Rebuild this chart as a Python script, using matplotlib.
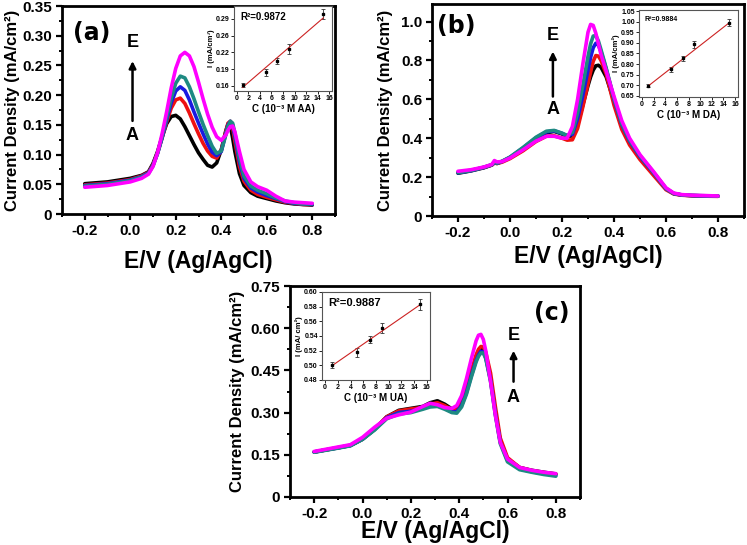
import matplotlib
matplotlib.use("Agg")
import matplotlib.pyplot as plt
from matplotlib.ticker import MultipleLocator
import numpy as np

plt.rcParams['font.family'] = ['Liberation Sans', 'DejaVu Sans']
plt.rcParams['font.weight'] = 'bold'
plt.rcParams['mathtext.default'] = 'bf'

# ---------------- Data: panel (a) AA ----------------
xa = [-0.2, -0.1, 0.0, 0.05, 0.08, 0.10, 0.12, 0.14, 0.16, 0.18, 0.20, 0.22, 0.24, 0.26,
      0.28, 0.30, 0.32, 0.34, 0.36, 0.38, 0.40, 0.42, 0.43, 0.44, 0.45, 0.46, 0.48, 0.50,
      0.53, 0.56, 0.60, 0.64, 0.68, 0.72, 0.76, 0.80]
a_A = [0.051, 0.054, 0.060, 0.065, 0.071, 0.085, 0.105, 0.130, 0.152, 0.164, 0.166, 0.160, 0.147, 0.132,
       0.117, 0.103, 0.092, 0.082, 0.079, 0.086, 0.108, 0.140, 0.152, 0.148, 0.128, 0.105, 0.068, 0.048,
       0.036, 0.030, 0.026, 0.022, 0.019, 0.017, 0.016, 0.015]
a_B = [0.049, 0.052, 0.058, 0.064, 0.070, 0.083, 0.103, 0.128, 0.155, 0.178, 0.192, 0.195, 0.186, 0.170,
       0.152, 0.135, 0.119, 0.106, 0.097, 0.094, 0.107, 0.138, 0.153, 0.156, 0.145, 0.122, 0.080, 0.055,
       0.040, 0.033, 0.028, 0.024, 0.020, 0.018, 0.016, 0.016]
a_C = [0.048, 0.051, 0.057, 0.063, 0.069, 0.082, 0.102, 0.128, 0.158, 0.187, 0.207, 0.214, 0.208, 0.192,
       0.172, 0.153, 0.135, 0.118, 0.104, 0.098, 0.105, 0.135, 0.150, 0.156, 0.150, 0.130, 0.088, 0.060,
       0.044, 0.037, 0.031, 0.026, 0.021, 0.018, 0.017, 0.016]
a_D = [0.047, 0.050, 0.056, 0.062, 0.068, 0.081, 0.102, 0.130, 0.163, 0.195, 0.220, 0.232, 0.229, 0.214,
       0.194, 0.172, 0.151, 0.132, 0.114, 0.102, 0.106, 0.133, 0.148, 0.156, 0.153, 0.136, 0.094, 0.064,
       0.047, 0.040, 0.034, 0.027, 0.022, 0.019, 0.017, 0.017]
a_E = [0.045, 0.048, 0.054, 0.060, 0.067, 0.080, 0.103, 0.135, 0.172, 0.212, 0.245, 0.266, 0.272, 0.266,
       0.248, 0.222, 0.194, 0.168, 0.146, 0.130, 0.124, 0.133, 0.141, 0.147, 0.148, 0.138, 0.105, 0.075,
       0.054, 0.046, 0.040, 0.030, 0.022, 0.020, 0.019, 0.018]

# ---------------- Data: panel (b) DA ----------------
xb = [-0.2, -0.15, -0.1, -0.07, -0.06, -0.05, -0.03, 0.0, 0.05, 0.10, 0.14, 0.17, 0.20, 0.22, 0.24,
      0.26, 0.28, 0.30, 0.31, 0.32, 0.33, 0.34, 0.35, 0.37, 0.40, 0.43, 0.46, 0.50, 0.55, 0.60,
      0.63, 0.66, 0.70, 0.75, 0.80]
b_A = [0.220, 0.232, 0.248, 0.262, 0.275, 0.270, 0.280, 0.300, 0.345, 0.395, 0.428, 0.435, 0.422, 0.410, 0.412,
       0.470, 0.570, 0.670, 0.715, 0.750, 0.772, 0.775, 0.765, 0.715, 0.590, 0.470, 0.385, 0.305, 0.225, 0.140,
       0.115, 0.108, 0.105, 0.103, 0.102]
b_B = [0.225, 0.235, 0.250, 0.262, 0.272, 0.270, 0.277, 0.295, 0.335, 0.383, 0.410, 0.412, 0.400, 0.390, 0.392,
       0.450, 0.560, 0.680, 0.740, 0.795, 0.825, 0.822, 0.800, 0.730, 0.570, 0.445, 0.365, 0.290, 0.212, 0.135,
       0.113, 0.107, 0.104, 0.102, 0.101]
b_C = [0.222, 0.233, 0.250, 0.263, 0.276, 0.271, 0.281, 0.302, 0.350, 0.402, 0.432, 0.438, 0.425, 0.412, 0.420,
       0.500, 0.620, 0.750, 0.815, 0.865, 0.888, 0.878, 0.845, 0.755, 0.600, 0.470, 0.385, 0.305, 0.225, 0.140,
       0.115, 0.108, 0.105, 0.103, 0.102]
b_D = [0.223, 0.234, 0.251, 0.264, 0.277, 0.272, 0.282, 0.303, 0.352, 0.405, 0.436, 0.440, 0.426, 0.414, 0.430,
       0.530, 0.670, 0.820, 0.885, 0.925, 0.928, 0.900, 0.855, 0.760, 0.605, 0.475, 0.390, 0.310, 0.228, 0.142,
       0.116, 0.109, 0.106, 0.104, 0.103]
b_E = [0.230, 0.238, 0.252, 0.265, 0.285, 0.278, 0.280, 0.298, 0.340, 0.385, 0.410, 0.410, 0.400, 0.400, 0.460,
       0.600, 0.780, 0.945, 0.985, 0.980, 0.940, 0.885, 0.830, 0.745, 0.615, 0.490, 0.400, 0.315, 0.232, 0.145,
       0.118, 0.110, 0.107, 0.105, 0.103]

# ---------------- Data: panel (c) UA ----------------
xc = [-0.2, -0.1, -0.05, 0.0, 0.05, 0.10, 0.15, 0.20, 0.25, 0.28, 0.31, 0.34, 0.37, 0.39, 0.41,
      0.43, 0.45, 0.47, 0.48, 0.49, 0.50, 0.51, 0.53, 0.55, 0.57, 0.60, 0.65, 0.70, 0.75, 0.80]
c_A = [0.160, 0.175, 0.183, 0.205, 0.240, 0.285, 0.308, 0.315, 0.322, 0.335, 0.342, 0.330, 0.313, 0.312, 0.335,
       0.380, 0.440, 0.495, 0.515, 0.525, 0.522, 0.500, 0.420, 0.300, 0.200, 0.135, 0.105, 0.095, 0.088, 0.082]
c_B = [0.160, 0.176, 0.184, 0.207, 0.242, 0.285, 0.306, 0.313, 0.318, 0.330, 0.335, 0.325, 0.310, 0.310, 0.335,
       0.385, 0.448, 0.505, 0.525, 0.535, 0.533, 0.515, 0.440, 0.320, 0.210, 0.140, 0.105, 0.094, 0.087, 0.081]
c_C = [0.160, 0.175, 0.183, 0.206, 0.240, 0.282, 0.300, 0.305, 0.315, 0.325, 0.328, 0.315, 0.302, 0.303, 0.325,
       0.370, 0.430, 0.485, 0.505, 0.518, 0.515, 0.495, 0.415, 0.295, 0.195, 0.130, 0.100, 0.090, 0.083, 0.077]
c_D = [0.159, 0.174, 0.182, 0.205, 0.238, 0.278, 0.295, 0.300, 0.312, 0.320, 0.322, 0.312, 0.300, 0.298, 0.320,
       0.365, 0.425, 0.480, 0.500, 0.512, 0.512, 0.492, 0.410, 0.290, 0.190, 0.125, 0.097, 0.088, 0.080, 0.074]
c_E = [0.162, 0.178, 0.186, 0.212, 0.248, 0.280, 0.292, 0.302, 0.322, 0.333, 0.328, 0.318, 0.315, 0.325, 0.360,
       0.420, 0.490, 0.555, 0.575, 0.578, 0.560, 0.520, 0.410, 0.290, 0.195, 0.135, 0.105, 0.095, 0.088, 0.083]

# ---------------- Inset data ----------------
conc = [1, 5, 7, 9, 15]
ins_a = [0.161, 0.186, 0.208, 0.232, 0.300]
err_a = [0.004, 0.006, 0.006, 0.010, 0.010]
fit_a = [0.157, 0.292]
ins_b = [0.698, 0.775, 0.828, 0.893, 0.995]
err_b = [0.008, 0.010, 0.012, 0.018, 0.016]
fit_b = [0.695, 0.995]
ins_c = [0.500, 0.518, 0.535, 0.551, 0.583]
err_c = [0.004, 0.006, 0.005, 0.007, 0.008]
fit_c = [0.499, 0.583]
fit_x = [1, 15]

colors = ['#000000', '#ee1111', '#1a1ae0', '#1e8a82', '#ff00ff']
xticks_main = [-0.2, 0.0, 0.2, 0.4, 0.6, 0.8]
xticklabels_main = ['-0.2', '0.0', '0.2', '0.4', '0.6', '0.8']

W, H = 747, 545
fig = plt.figure(figsize=(W / 100, H / 100), dpi=100)


def px_axes(l, t, r, b):
    return fig.add_axes([l / W, 1 - b / H, (r - l) / W, (b - t) / H])


def style_main(ax, ylim, yticks, yticklabels, yminor, ylab_x, xlab_y):
    ax.set_xlim(-0.3, 0.9)
    ax.set_ylim(*ylim)
    ax.set_xticks(xticks_main)
    ax.set_xticklabels(xticklabels_main)
    ax.xaxis.set_minor_locator(MultipleLocator(0.1))
    ax.set_yticks(yticks)
    ax.set_yticklabels(yticklabels)
    ax.yaxis.set_minor_locator(MultipleLocator(yminor))
    for s in ax.spines.values():
        s.set_linewidth(2.0)
    ax.tick_params(which='major', direction='out', length=4, width=1.6, labelsize=11, pad=3)
    ax.tick_params(which='minor', direction='out', length=2.5, width=1.4)
    for lab in ax.get_xticklabels() + ax.get_yticklabels():
        lab.set_fontweight('bold')
    ax.set_xlabel('E/V (Ag/AgCl)', fontsize=16.5, fontweight='bold')
    ax.set_ylabel('Current Density (mA/cm²)', fontsize=12, fontweight='bold')
    ax.yaxis.set_label_coords(ylab_x, 0.5)
    ax.xaxis.set_label_coords(0.5, xlab_y)


def style_inset(ax, ylim, yticks, yticklabels, ylabel, xlabel, r2, r2size):
    ax.set_xlim(-0.5, 16.5)
    ax.set_ylim(*ylim)
    ax.set_xticks(range(0, 17, 2))
    ax.set_yticks(yticks)
    ax.set_yticklabels(yticklabels)
    for s in ax.spines.values():
        s.set_linewidth(0.8)
        s.set_color('#555555')
    ax.tick_params(direction='out', length=2, width=0.6, labelsize=5, pad=1)
    for lab in ax.get_xticklabels() + ax.get_yticklabels():
        lab.set_fontweight('bold')
    ax.set_ylabel(ylabel, fontsize=5.5, fontweight='bold', labelpad=1)
    ax.set_xlabel(xlabel, fontsize=7, fontweight='bold', labelpad=1)
    ax.text(0.06, 0.93, r2, transform=ax.transAxes, fontsize=r2size, fontweight='bold',
            va='top', ha='left')


def draw_curves(ax, x, curves):
    for y, c in zip(curves, colors):
        ax.plot(x, y, color=c, lw=2.6, solid_capstyle='round', solid_joinstyle='round')


def arrow(ax, x, y0, y1, ytE, ytA):
    ax.annotate('', xy=(x, y1), xytext=(x, y0),
                arrowprops=dict(arrowstyle='-|>', color='black', lw=1.8, mutation_scale=10))
    ax.text(x, ytE, 'E', ha='center', va='center', fontsize=13, fontweight='bold')
    ax.text(x, ytA, 'A', ha='center', va='center', fontsize=13, fontweight='bold')


# ----- Panel (a) -----
ax_a = px_axes(62, 6, 335, 214)
draw_curves(ax_a, xa, [a_A, a_B, a_C, a_D, a_E])
style_main(ax_a, (0, 0.35), [0, 0.05, 0.10, 0.15, 0.20, 0.25, 0.30, 0.35],
           ['0', '0.05', '0.10', '0.15', '0.20', '0.25', '0.30', '0.35'], 0.025,
           -0.155, -0.175)
ax_a.text(0.04, 0.93, '(a)', transform=ax_a.transAxes, fontsize=17, fontweight='bold',
          va='top', ha='left', family=['DejaVu Sans'])
arrow(ax_a, 0.01, 0.152, 0.262, 0.288, 0.132)

ins1 = px_axes(234, 6, 332, 91)
ins1.errorbar(conc, ins_a, yerr=err_a, fmt='s', ms=1.8, color='black', ecolor='#333333',
              elinewidth=0.6, capsize=1.2, capthick=0.6)
ins1.plot(fit_x, fit_a, color='#cc2222', lw=0.8)
style_inset(ins1, (0.15, 0.315), [0.16, 0.1925, 0.225, 0.2575, 0.29],
            ['0.16', '0.19', '0.22', '0.26', '0.29'],
            'I (mA/cm³)', 'C (10⁻³ M AA)', 'R²=0.9872', 7)

# ----- Panel (b) -----
ax_b = px_axes(432, 4, 744, 216)
draw_curves(ax_b, xb, [b_A, b_B, b_C, b_D, b_E])
style_main(ax_b, (0, 1.09), [0, 0.2, 0.4, 0.6, 0.8, 1.0],
           ['0', '0.2', '0.4', '0.6', '0.8', '1.0'], 0.1,
           -0.125, -0.135)
ax_b.text(0.015, 0.955, '(b)', transform=ax_b.transAxes, fontsize=17, fontweight='bold',
          va='top', ha='left', family=['DejaVu Sans'])
arrow(ax_b, 0.165, 0.60, 0.86, 0.93, 0.55)

ins2 = px_axes(639, 10, 738, 97)
ins2.errorbar(conc, ins_b, yerr=err_b, fmt='s', ms=1.8, color='black', ecolor='#333333',
              elinewidth=0.6, capsize=1.2, capthick=0.6)
ins2.plot(fit_x, fit_b, color='#cc2222', lw=0.8)
style_inset(ins2, (0.645, 1.055), [0.65, 0.70, 0.75, 0.80, 0.85, 0.90, 0.95, 1.00, 1.05],
            ['0.65', '0.70', '0.75', '0.80', '0.85', '0.90', '0.95', '1.00', '1.05'],
            'I (mA/cm²)', 'C (10⁻³ M DA)', 'R²=0.9884', 5)

# ----- Panel (c) -----
ax_c = px_axes(290, 286, 580, 497)
draw_curves(ax_c, xc, [c_A, c_B, c_C, c_D, c_E])
style_main(ax_c, (0, 0.75), [0, 0.15, 0.30, 0.45, 0.60, 0.75],
           ['0', '0.15', '0.30', '0.45', '0.60', '0.75'], 0.075,
           -0.155, -0.11)
ax_c.text(0.965, 0.93, '(c)', transform=ax_c.transAxes, fontsize=17, fontweight='bold',
          va='top', ha='right', family=['DejaVu Sans'])
arrow(ax_c, 0.625, 0.40, 0.53, 0.575, 0.355)

ins3 = px_axes(322, 292, 430, 380)
ins3.errorbar(conc, ins_c, yerr=err_c, fmt='s', ms=1.8, color='black', ecolor='#333333',
              elinewidth=0.6, capsize=1.2, capthick=0.6)
ins3.plot(fit_x, fit_c, color='#cc2222', lw=0.8)
style_inset(ins3, (0.48, 0.60), [0.48, 0.50, 0.52, 0.54, 0.56, 0.58, 0.60],
            ['0.48', '0.50', '0.52', '0.54', '0.56', '0.58', '0.60'],
            'I (mA/ cm²)', 'C (10⁻³ M UA)', 'R²=0.9887', 8)

fig.savefig('out.png', dpi=100)
